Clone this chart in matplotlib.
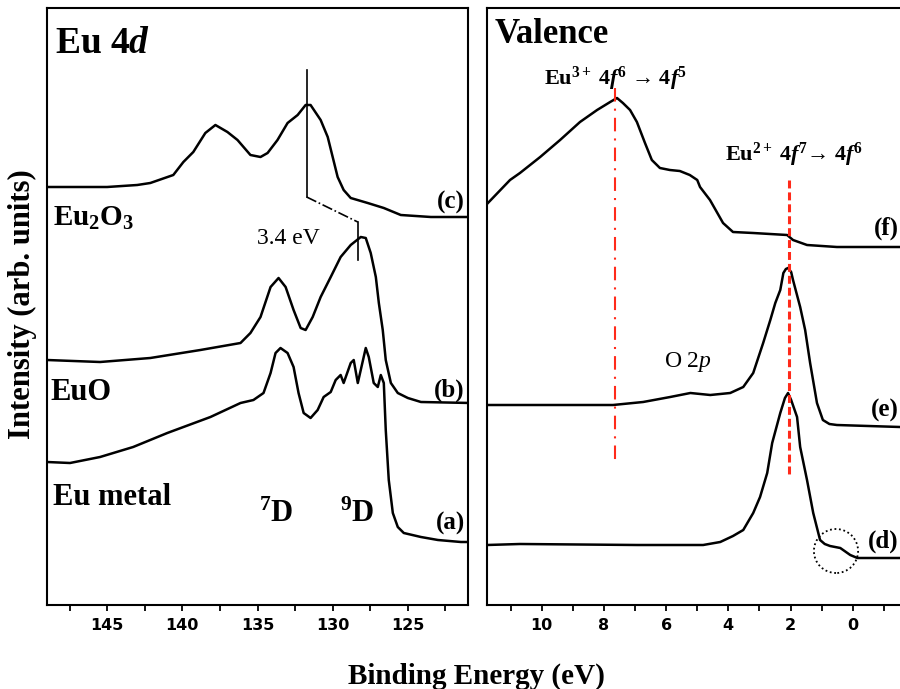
import matplotlib
matplotlib.use("Agg")
import matplotlib.pyplot as plt
from matplotlib.patches import Ellipse
import numpy as np

plt.rcParams['font.family'] = ['Liberation Serif', 'DejaVu Serif']
plt.rcParams['mathtext.fontset'] = 'custom'
plt.rcParams['mathtext.rm'] = 'Liberation Serif'
plt.rcParams['mathtext.it'] = 'Liberation Serif:italic'
plt.rcParams['mathtext.bf'] = 'Liberation Serif:bold'
plt.rcParams['mathtext.bfit'] = 'Liberation Serif:italic:bold'

# ---------------- Eu 4d core level (left panel) ----------------
e4d_c = [149.0, 145.0, 143.0, 142.13, 140.6, 139.93, 139.27, 138.47, 137.8, 137.0, 136.33,
         135.47, 134.8, 134.33, 133.67, 133.0, 132.33, 131.8, 131.47, 130.8, 130.33, 130.0,
         129.67, 129.27, 128.8, 127.67, 126.6, 125.47, 123.47, 120.93]
int_c = [418, 418, 420, 422, 430, 443, 453, 472, 480, 473, 465,
         450, 448, 452, 465, 482, 490, 500, 500, 485, 468, 448,
         428, 415, 407, 402, 397, 390, 388, 388]

e4d_b = [149.0, 145.47, 142.13, 138.8, 136.13, 135.47, 134.8, 134.13, 133.6, 133.13, 132.6,
         132.13, 131.8, 131.33, 130.8, 130.13, 129.47, 128.8, 128.13, 127.8, 127.47, 127.13,
         126.93, 126.67, 126.47, 126.13, 125.67, 125.0, 124.13, 120.8]
int_b = [245, 243, 247, 255, 262, 272, 288, 318, 327, 318, 295,
         277, 275, 288, 308, 328, 348, 360, 368, 367, 352, 328,
         302, 275, 245, 222, 212, 207, 203, 202]

e4d_a = [149.0, 147.47, 145.47, 143.27, 141.0, 138.13, 136.13, 135.27, 134.6, 134.13, 133.8,
         133.47, 133.0, 132.6, 132.27, 131.93, 131.47, 131.0, 130.6, 130.13, 129.8, 129.47,
         129.27, 128.8, 128.6, 128.33, 127.8, 127.6, 127.27, 127.0, 126.8, 126.6, 126.47,
         126.27, 126.0, 125.67, 125.27, 124.13, 123.0, 121.47, 120.8]
int_a = [143, 142, 148, 158, 172, 188, 202, 205, 212, 232, 252,
         257, 252, 238, 212, 192, 187, 195, 208, 213, 225, 230,
         222, 242, 245, 222, 257, 248, 222, 218, 230, 222, 175,
         125, 92, 78, 72, 68, 65, 63, 63]

# peak markers (Eu2O3 and EuO main peaks, 3.4 eV apart)
peak_c = 131.73
peak_b = 128.33

# ---------------- Valence band (right panel) ----------------
ev_f = [11.73, 11.02, 10.70, 10.05, 9.41, 8.77, 8.22, 7.80, 7.58, 7.39, 7.16, 6.94,
        6.68, 6.46, 6.20, 5.88, 5.56, 5.24, 5.00, 4.91, 4.59, 4.17, 3.85, 3.20,
        2.11, 1.92, 1.47, 0.51, -1.52]
int_f = [402, 425, 432, 448, 465, 483, 495, 503, 507, 502, 495, 483,
         462, 445, 437, 435, 434, 430, 425, 418, 405, 382, 373, 372,
         370, 365, 360, 358, 358]

ev_e = [11.76, 11.02, 7.71, 6.74, 5.87, 5.22, 4.58, 3.94, 3.52, 3.20, 2.88, 2.65,
        2.49, 2.33, 2.23, 2.15, 2.08, 1.98, 1.92, 1.69, 1.53, 1.37, 1.15, 0.96,
        0.75, 0.51, -1.52]
int_e = [200, 200, 200, 203, 208, 212, 210, 212, 218, 232, 262, 285,
         302, 315, 332, 336, 337, 333, 325, 298, 275, 242, 202, 185,
         181, 180, 178]

ev_d = [11.76, 10.70, 6.93, 4.81, 4.26, 3.85, 3.52, 3.20, 2.98, 2.75, 2.59, 2.33,
        2.18, 2.08, 1.98, 1.79, 1.69, 1.47, 1.27, 1.05, 0.90, 0.73, 0.40, 0.08,
        -0.15, -1.52]
int_d = [60, 61, 60, 60, 63, 69, 75, 92, 108, 132, 162, 192,
         207, 212, 205, 188, 158, 125, 92, 65, 61, 59, 57, 50,
         47, 47]

eu3_line = 7.64
eu2_line = 2.05

# ---------------- figure ----------------
fig = plt.figure(figsize=(9, 6.89), dpi=100)
W, H = 900.0, 689.0
axL = fig.add_axes([47 / W, 1 - 605 / H, 421 / W, 597 / H])
axR = fig.add_axes([487 / W, 1 - 605 / H, 413 / W, 597 / H])

lw_curve = 1.8
for e, i in [(e4d_c, int_c), (e4d_b, int_b), (e4d_a, int_a)]:
    axL.plot(e, i, color='black', lw=lw_curve, solid_joinstyle='round')
for e, i in [(ev_f, int_f), (ev_e, int_e), (ev_d, int_d)]:
    axR.plot(e, i, color='black', lw=lw_curve, solid_joinstyle='round')

axL.set_xlim(149.0, 121.0)
axR.set_xlim(11.76, -1.52)
for ax in (axL, axR):
    ax.set_ylim(0, 597)
    ax.set_yticks([])
    for s in ax.spines.values():
        s.set_linewidth(1.5)
    ax.tick_params(axis='x', which='both', direction='out', length=4.5, width=1.3,
                   pad=5, labelsize=11.5)
axR.spines['right'].set_visible(False)

axL.set_xticks([145, 140, 135, 130, 125])
axL.set_xticks(np.arange(147.5, 121, -5), minor=True)
axR.set_xticks([10, 8, 6, 4, 2, 0])
axR.set_xticks([11, 9, 7, 5, 3, 1, -1], minor=True)
for ax in (axL, axR):
    for lab in ax.get_xticklabels():
        lab.set_fontfamily('DejaVu Sans')
        lab.set_fontweight('bold')

# left-panel markers
axL.plot([peak_c, peak_c], [535, 408], color='black', lw=1.2)
axL.plot([peak_c, peak_b], [408, 383], color='black', lw=1.2, linestyle='-.')
axL.plot([peak_b, peak_b], [383, 345], color='black', lw=1.2)

# right-panel red guide lines
l1, = axR.plot([eu3_line, eu3_line], [517, 142], color='#ff2a1a', lw=1.5)
l1.set_dashes([6.5, 3.4, 1.0, 3.4])
l2, = axR.plot([eu2_line, eu2_line], [425, 130], color='#ff2a1a', lw=2.2)
l2.set_dashes([2.6, 1.3])

axR.add_patch(Ellipse((0.537, 54), 1.42, 44, fill=False, edgecolor='black',
                      linestyle=(0, (1, 1.5)), lw=1.3))

bold = dict(fontweight='bold', color='black')
# left panel texts
axL.text(148.47, 552, r'Eu 4$\mathbfit{d}$', fontsize=27, ha='left', va='baseline', **bold)
axL.text(121.2, 403, '(c)', fontsize=18, ha='right', va='center', **bold)
axL.text(148.6, 379, r'Eu$_{\mathbf{2}}$O$_{\mathbf{3}}$', fontsize=21, ha='left', va='baseline', **bold)
axL.text(132.93, 367, '3.4 eV', fontsize=17, ha='center', va='center', color='black')
axL.text(121.2, 215, '(b)', fontsize=18, ha='right', va='center', **bold)
axL.text(148.8, 205, 'EuO', fontsize=22, ha='left', va='baseline', **bold)
axL.text(148.6, 100, 'Eu metal', fontsize=22, ha='left', va='baseline', **bold)
axL.text(133.73, 83, r'$^{\mathbf{7}}$D', fontsize=22, ha='center', va='baseline', **bold)
axL.text(128.4, 83, r'$^{\mathbf{9}}$D', fontsize=22, ha='center', va='baseline', **bold)
axL.text(121.2, 82, '(a)', fontsize=18, ha='right', va='center', **bold)

# right panel texts
axR.text(11.5, 562, 'Valence', fontsize=25, ha='left', va='baseline', **bold)
axR.text(7.64, 520, r'Eu$^{\mathbf{3+}}$ 4$\mathbfit{f}^{\mathbf{6}}$ → 4$\mathbfit{f}^{\mathbf{5}}$',
         fontsize=16, ha='center', va='baseline', **bold)
axR.text(1.89, 444, r'Eu$^{\mathbf{2+}}$ 4$\mathbfit{f}^{\mathbf{7}}$→ 4$\mathbfit{f}^{\mathbf{6}}$',
         fontsize=16, ha='center', va='baseline', **bold)
axR.text(-1.47, 377, '(f)', fontsize=18, ha='right', va='center', **bold)
axR.text(5.30, 243, r'O 2$\mathit{p}$', fontsize=17, ha='center', va='center', color='black')
axR.text(-1.47, 195, '(e)', fontsize=18, ha='right', va='center', **bold)
axR.text(-1.47, 64, '(d)', fontsize=18, ha='right', va='center', **bold)

fig.text(22 / W, 1 - 304 / H, 'Intensity (arb. units)', rotation=90, fontsize=22,
         ha='center', va='center', **bold)
fig.text(476 / W, 1 - 676 / H, 'Binding Energy (eV)', fontsize=21,
         ha='center', va='center', **bold)

fig.savefig('out.png', dpi=100)
